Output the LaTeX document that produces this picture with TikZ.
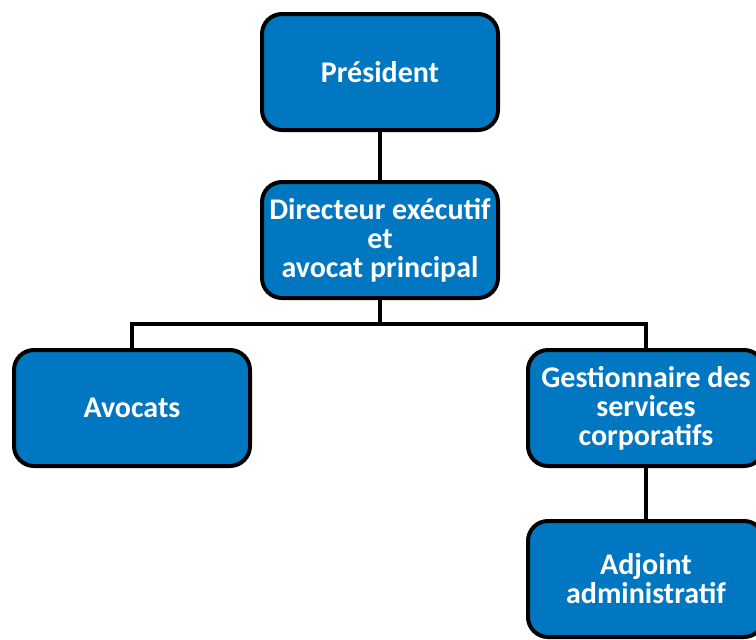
\documentclass[tikz,border=0pt]{standalone}
\usepackage{fontspec}
\setmainfont{Carlito}
\definecolor{orgblue}{RGB}{0,119,192}

\begin{document}
\begin{tikzpicture}[x=1pt,y=-1pt,
  post/.style={draw=black, fill=orgblue, line width=4pt, rounded corners=20pt,
    minimum width=236pt, minimum height=116pt, align=center, text=white,
    inner sep=0pt, font=\fontsize{30}{29}\selectfont\bfseries},
  link/.style={draw=black, line width=4pt}]
\useasboundingbox (0,0) rectangle (756,640);
\node[post] (pres) at (380,72) {Président};
\node[post] (dir) at (380,240) {Directeur exécutif\\et\\avocat principal};
\node[post] (avo) at (132,408) {Avocats};
\node[post] (gest) at (646,408) {Gestionnaire des\\services\\corporatifs};
\node[post] (adj) at (646,579) {Adjoint\\administratif};
\coordinate (bus) at (380,324);
\draw[link] (pres) -- (dir);
\draw[link] (dir) -- (bus);
\draw[link] (bus) -| (avo);
\draw[link] (bus) -| (gest);
\draw[link] (gest) -- (adj);
\end{tikzpicture}
\end{document}
